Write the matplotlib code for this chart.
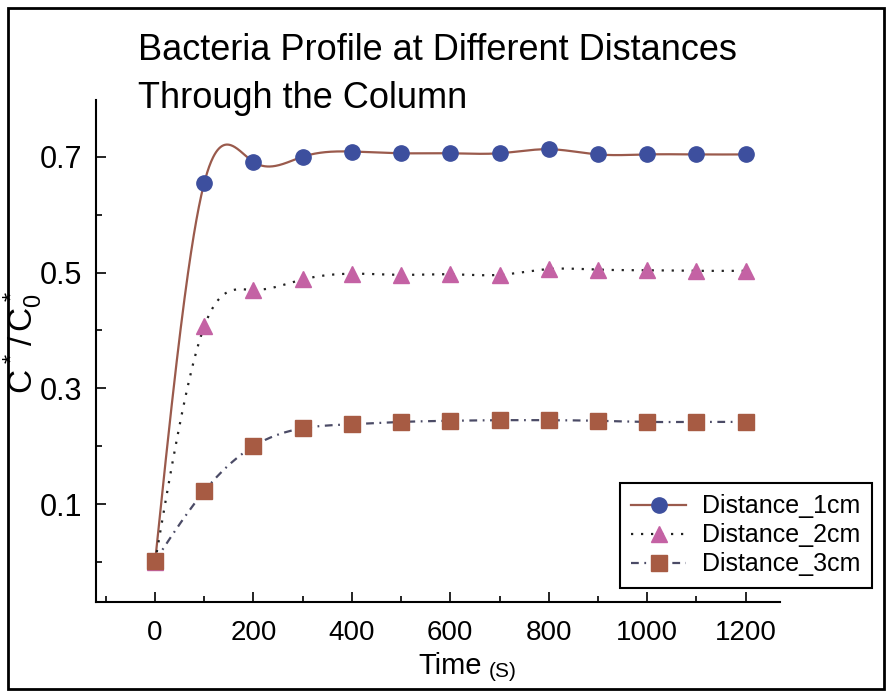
import numpy as np
import matplotlib
matplotlib.use("Agg")
import matplotlib.pyplot as plt
from matplotlib.lines import Line2D
from matplotlib.patches import Rectangle

# ---------------- data ----------------
time_s = [0, 100, 200, 300, 400, 500, 600, 700, 800, 900, 1000, 1100, 1200]
dist_1cm = [0.0, 0.655, 0.691, 0.700, 0.709, 0.706, 0.706, 0.706, 0.713, 0.704, 0.704, 0.704, 0.704]
dist_2cm = [0.0, 0.407, 0.470, 0.488, 0.498, 0.496, 0.497, 0.496, 0.506, 0.505, 0.504, 0.503, 0.503]
dist_3cm = [0.002, 0.1225, 0.200, 0.231, 0.238, 0.242, 0.244, 0.245, 0.245, 0.244, 0.242, 0.242, 0.242]
series_labels = ["Distance_1cm", "Distance_2cm", "Distance_3cm"]
x_ticks = [0, 200, 400, 600, 800, 1000, 1200]
y_ticks = [0.1, 0.3, 0.5, 0.7]
title_lines = ["Bacteria Profile at Different Distances", "Through the Column"]


def natural_spline(x, y, xs):
    x = np.asarray(x, float)
    y = np.asarray(y, float)
    n = len(x)
    h = np.diff(x)
    A = np.zeros((n, n))
    r = np.zeros(n)
    A[0, 0] = 1
    A[-1, -1] = 1
    for i in range(1, n - 1):
        A[i, i - 1] = h[i - 1]
        A[i, i] = 2 * (h[i - 1] + h[i])
        A[i, i + 1] = h[i]
        r[i] = 3 * ((y[i + 1] - y[i]) / h[i] - (y[i] - y[i - 1]) / h[i - 1])
    c = np.linalg.solve(A, r)
    b = (y[1:] - y[:-1]) / h - h * (2 * c[:-1] + c[1:]) / 3
    d = (c[1:] - c[:-1]) / (3 * h)
    idx = np.clip(np.searchsorted(x, xs) - 1, 0, n - 2)
    dx = xs - x[idx]
    return y[idx] + b[idx] * dx + c[idx] * dx ** 2 + d[idx] * dx ** 3


plt.rcParams['font.family'] = ['Liberation Sans', 'DejaVu Sans']
plt.rcParams['mathtext.fontset'] = 'custom'
plt.rcParams['mathtext.rm'] = 'Liberation Sans'
plt.rcParams['mathtext.it'] = 'Liberation Sans'

W, H = 886, 693
fig = plt.figure(figsize=(W / 100, H / 100), dpi=100)

def fx(px):
    return px / W

def fy(py):
    return 1 - py / H

ax = fig.add_axes([fx(96), fy(602), fx(780) - fx(96), fy(100) - fy(602)])

xs = np.linspace(0, 1200, 1201)

c1_line = '#9a5a4c'
c1_mark = '#3d4f9e'
c2_line = '#222222'
c2_mark = '#c462a4'
c3_mark = '#a75b43'
c3_line = '#4b4b66'
dot_style = (0, (1, 3.5))
dashdot_style = (0, (3.5, 2.5, 0.8, 2.5))

ax.plot(xs, natural_spline(time_s, dist_1cm, xs), color=c1_line, lw=1.6, zorder=2)
ax.plot(time_s, dist_1cm, 'o', color=c1_mark, ms=11, zorder=3)

ax.plot(xs, natural_spline(time_s, dist_2cm, xs), color=c2_line, lw=1.6,
        linestyle=dot_style, zorder=2)
ax.plot(time_s, dist_2cm, '^', color=c2_mark, ms=11, zorder=3)

ax.plot(xs, natural_spline(time_s, dist_3cm, xs), color=c3_line, lw=1.6,
        linestyle=dashdot_style, zorder=2)
ax.plot(time_s, dist_3cm, 's', color=c3_mark, ms=11, zorder=4)

ax.set_xlim(-120, 1270)
ax.set_ylim(-0.069, 0.798)

ax.spines['top'].set_visible(False)
ax.spines['right'].set_visible(False)
for s in ('left', 'bottom'):
    ax.spines[s].set_linewidth(1.5)

ax.set_xticks(x_ticks)
ax.set_xticklabels([str(v) for v in x_ticks])
ax.set_xticks(np.arange(-100, 1300, 100), minor=True)
ax.set_yticks(y_ticks)
ax.set_yticklabels(["%.1f" % v for v in y_ticks])
ax.set_yticks([0.0, 0.2, 0.4, 0.6], minor=True)
ax.tick_params(axis='both', which='both', direction='in', width=1.2)
ax.tick_params(axis='both', which='major', length=7)
ax.tick_params(axis='both', which='minor', length=4)
ax.tick_params(axis='y', which='major', labelsize=22, pad=10)
ax.tick_params(axis='x', which='major', labelsize=20, pad=13)

# titles
fig.text(fx(138), fy(60), title_lines[0], fontsize=26, ha='left', va='baseline')
fig.text(fx(138), fy(108), title_lines[1], fontsize=26, ha='left', va='baseline')

# axis labels
fig.text(fx(23), fy(342), r'$C^*\,/\,C_0^*$', fontsize=24, rotation=90,
         ha='center', va='center')
fig.text(fx(482), fy(674), 'Time', fontsize=21, ha='right', va='baseline')
fig.text(fx(489), fy(677), '(S)', fontsize=15, ha='left', va='baseline')

# legend
handles = [
    Line2D([], [], color=c1_line, lw=1.6, marker='o', mfc=c1_mark, mec=c1_mark, ms=11),
    Line2D([], [], color=c2_line, lw=1.6, linestyle=dot_style, marker='^',
           mfc=c2_mark, mec=c2_mark, ms=11),
    Line2D([], [], color=c3_line, lw=1.6, linestyle=dashdot_style, marker='s',
           mfc=c3_mark, mec=c3_mark, ms=11),
]
leg = fig.legend(handles, series_labels, loc='upper left',
                 bbox_to_anchor=(fx(620), fy(483)), bbox_transform=fig.transFigure,
                 fontsize=18, frameon=True, fancybox=False, framealpha=1,
                 edgecolor='black', handlelength=2.2, handletextpad=0.65,
                 labelspacing=0.2, borderpad=0.45, borderaxespad=0, numpoints=1)
leg.get_frame().set_linewidth(1.5)

# outer frame
fig.patches.append(Rectangle((fx(8), fy(689)), fx(884) - fx(8), fy(8) - fy(689),
                             transform=fig.transFigure, fill=False, lw=2,
                             edgecolor='black'))

fig.savefig('out.png', dpi=100)
